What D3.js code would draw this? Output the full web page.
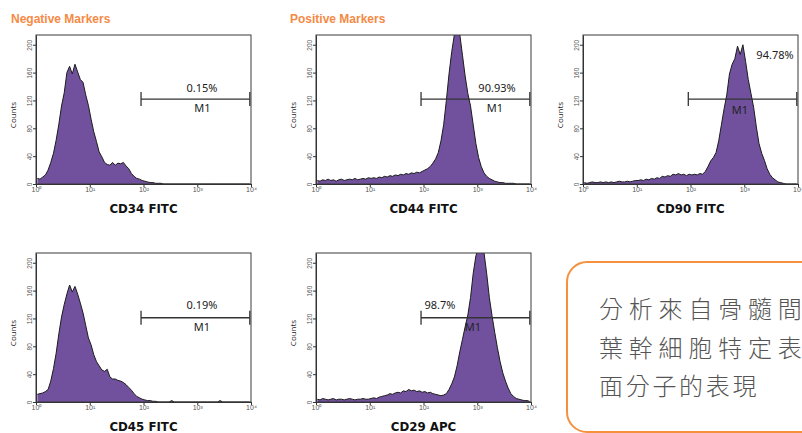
<!DOCTYPE html>
<html>
<head>
<meta charset="utf-8">
<script src="https://cdn.jsdelivr.net/npm/d3@7"></script>
<style>
body { margin: 0; background: #fff; }
svg { display: block; }
</style>
</head>
<body>
<svg id="chart" width="802" height="433"></svg>
<script>
// histogram channels: 80 bins, 20 per decade, from 10^0 to 10^4
var binCount = 80
var binCenters = d3.range(binCount).map(function(i) { return Math.pow(10, 0.025 + i * 0.05) })

var panelLabels = ["CD34 FITC", "CD44 FITC", "CD90 FITC", "CD45 FITC", "CD29 APC"]
var headerLabels = ["Negative Markers", "Positive Markers"]

var cd34Counts = [8, 7, 10, 13, 20, 31, 44, 63, 86, 112, 131, 160, 169, 158, 172, 161, 150, 146, 128, 113,
    93, 75, 61, 46, 39, 31, 28, 27, 31, 27, 30, 29, 31, 26, 22, 15, 11, 8, 7, 5,
    4, 3, 2, 2, 1, 1, 1, 0, 0, 0, 0, 0, 0, 0, 0, 0, 0, 0, 0, 0,
    0, 0, 0, 0, 0, 0, 0, 0, 0, 0, 0, 0, 0, 0, 0, 0, 0, 0, 0, 0]
var cd44Counts = [5, 4, 6, 5, 7, 5, 6, 4, 6, 7, 5, 6, 7, 6, 8, 6, 7, 8, 7, 9,
    8, 9, 8, 10, 9, 11, 10, 12, 11, 13, 12, 14, 13, 15, 14, 16, 15, 17, 16, 18,
    20, 22, 25, 30, 36, 45, 62, 85, 120, 158, 190, 215, 232, 215, 185, 155, 130, 112, 85, 58,
    38, 25, 16, 11, 8, 6, 4, 3, 2, 2, 1, 1, 1, 1, 0, 0, 0, 0, 0, 0]
var cd90Counts = [2, 1, 2, 3, 2, 2, 3, 2, 3, 2, 3, 2, 3, 4, 3, 3, 4, 3, 4, 5,
    5, 6, 5, 7, 6, 8, 7, 9, 8, 11, 10, 12, 11, 14, 13, 15, 13, 14, 12, 14,
    13, 14, 13, 15, 14, 18, 25, 33, 38, 45, 62, 85, 108, 128, 158, 172, 180, 198, 186, 200,
    176, 150, 130, 110, 82, 58, 44, 34, 22, 14, 9, 6, 3, 2, 1, 0, 0, 0, 0, 0]
var cd45Counts = [11, 12, 13, 15, 18, 30, 48, 70, 98, 122, 140, 155, 168, 158, 166, 155, 142, 128, 110, 92,
    82, 68, 58, 52, 46, 44, 47, 36, 33, 33, 31, 30, 28, 25, 21, 17, 12, 8, 6, 4,
    3, 2, 2, 1, 1, 0, 0, 0, 0, 0, 2, 0, 0, 0, 0, 0, 0, 0, 0, 0,
    0, 0, 0, 0, 0, 0, 0, 0, 2, 0, 0, 0, 0, 0, 0, 0, 0, 0, 0, 0]
var cd29Counts = [4, 3, 5, 4, 3, 4, 5, 3, 4, 4, 3, 4, 5, 4, 3, 4, 4, 5, 4, 4,
    5, 6, 5, 7, 8, 9, 10, 12, 11, 13, 14, 13, 16, 15, 18, 16, 17, 15, 16, 14,
    15, 13, 14, 12, 11, 10, 9, 10, 12, 18, 26, 36, 52, 72, 90, 108, 125, 150, 185, 210,
    222, 225, 215, 185, 150, 124, 100, 78, 58, 42, 30, 20, 12, 8, 5, 4, 3, 2, 2, 1]
var seriesCounts = [cd34Counts, cd44Counts, cd90Counts, cd45Counts, cd29Counts]

// M1 gate
var markerLow = [90, 90, 91, 90, 90]
var markerHigh = [9500, 9500, 9500, 9500, 9500]
var markerLevel = [122, 122, 122, 121, 121]
var markerPercent = ["0.15%", "90.93%", "94.78%", "0.19%", "98.7%"]

var yTicks = [0, 40, 80, 120, 160, 200]
var xTicks = [1, 10, 100, 1000, 10000]
var xTickLabels = ["10\u2070", "10\u00B9", "10\u00B2", "10\u00B3", "10\u2074"]

var calloutLines = ["分析來自骨髓間", "葉幹細胞特定表", "面分子的表現"]

// layout
var frames = [[36, 35], [316, 35], [583, 35], [36, 253], [316, 253]]
var frameW = 215, frameH = 149
var pctPos = [[202, 91.5], [497, 91.5], [775, 58.5], [202, 308.5], [440, 308.5]]
var m1Pos = [[202.5, 112], [495, 112], [740, 113.5], [202, 330.5], [473, 330.5]]

var purple = "#71519e"
var orange = "#f58a45"

var svg = d3.select("#chart")

//headers
svg.selectAll(".header")
    .data(headerLabels)
    .enter().append("text")
    .attr("class", "header")
    .attr("x", function(d, i) { return i == 0 ? 11 : 290 })
    .attr("y", 22.5)
    .style("font-family", "'Liberation Sans', Arial, sans-serif")
    .style("font-weight", "bold")
    .style("font-size", "12px")
    .style("fill", orange)
    .text(function(d) { return d })

seriesCounts.forEach(function(counts, i) {
    var fx = frames[i][0], fy = frames[i][1]
    var g = svg.append("g").attr("transform", "translate(" + fx + "," + fy + ")")

    var x = d3.scaleLog().domain([1, 10000]).range([0, frameW])
    var y = d3.scaleLinear().domain([0, 214]).range([frameH, 0])

    g.append("clipPath").attr("id", "clip" + i)
        .append("rect").attr("width", frameW).attr("height", frameH)

    var bins = counts.map(function(c, j) { return { v: binCenters[j], c: c } })

    var area = d3.area()
        .x(function(d) { return x(d.v) })
        .y0(y(0))
        .y1(function(d) { return y(d.c) })
    var line = d3.line()
        .x(function(d) { return x(d.v) })
        .y(function(d) { return y(d.c) })

    var hist = g.append("g").attr("clip-path", "url(#clip" + i + ")")
    hist.append("path")
        .datum(bins)
        .attr("d", area)
        .attr("fill", purple)
    hist.append("path")
        .datum(bins)
        .attr("d", line)
        .attr("fill", "none")
        .attr("stroke", "#1c1c1c")
        .attr("stroke-width", 1)
        .attr("stroke-linejoin", "round")

    //frame
    g.append("rect")
        .attr("width", frameW)
        .attr("height", frameH)
        .attr("fill", "none")
        .attr("stroke", "#3a3a3a")
        .attr("stroke-width", 1)

    //y axis
    var yAxis = g.append("g")
        .call(d3.axisLeft(y).tickValues(yTicks).tickSize(3).tickSizeOuter(0))
    yAxis.select(".domain").attr("stroke", "#333")
    yAxis.selectAll("line").attr("stroke", "#333")
    yAxis.selectAll("text")
        .attr("x", 0)
        .attr("dy", 0)
        .attr("text-anchor", "middle")
        .attr("transform", "translate(-4.5,0) rotate(-90)")
        .style("font-family", "'Liberation Sans', Arial, sans-serif")
        .style("font-size", "6.5px")
        .style("fill", "#555")

    //x axis
    var xAxis = g.append("g")
        .attr("transform", "translate(0," + frameH + ")")
        .call(d3.axisBottom(x).tickValues(xTicks).tickSize(3).tickSizeOuter(0)
            .tickFormat(function(d, k) { return xTickLabels[k] }))
    xAxis.select(".domain").attr("stroke", "#333")
    xAxis.selectAll("line").attr("stroke", "#333")
    xAxis.selectAll("text")
        .attr("y", 3)
        .style("font-family", "'Liberation Sans', Arial, sans-serif")
        .style("font-size", "7px")
        .style("fill", "#555")

    //axis titles
    g.append("text")
        .attr("transform", "translate(-20,80) rotate(-90)")
        .attr("text-anchor", "middle")
        .style("font-family", "'Open Sans', sans-serif")
        .style("font-size", "8px")
        .style("fill", "#222")
        .text("Counts")
    g.append("text")
        .attr("x", frameW / 2)
        .attr("y", 178)
        .attr("text-anchor", "middle")
        .style("font-family", "'DejaVu Sans', sans-serif")
        .style("font-weight", "bold")
        .style("font-size", "11.8px")
        .style("fill", "#111")
        .text(panelLabels[i])

    //M1 marker
    var my = y(markerLevel[i])
    var mx0 = x(markerLow[i]), mx1 = x(markerHigh[i])
    var marker = g.append("g").attr("stroke", "#333").attr("stroke-width", 1.3)
    marker.append("line").attr("x1", mx0).attr("x2", mx1).attr("y1", my).attr("y2", my)
    marker.append("line").attr("x1", mx0).attr("x2", mx0).attr("y1", my - 7).attr("y2", my + 7)
    marker.append("line").attr("x1", mx1).attr("x2", mx1).attr("y1", my - 7).attr("y2", my + 7)

    g.append("text")
        .attr("x", pctPos[i][0] - fx)
        .attr("y", pctPos[i][1] - fy)
        .attr("text-anchor", "middle")
        .style("font-family", "'Noto Sans', sans-serif")
        .style("font-size", "11px")
        .style("fill", "#222")
        .text(markerPercent[i])
    g.append("text")
        .attr("x", m1Pos[i][0] - fx)
        .attr("y", m1Pos[i][1] - fy)
        .attr("text-anchor", "middle")
        .style("font-family", "'Noto Sans', sans-serif")
        .style("font-size", "11px")
        .style("fill", "#222")
        .text("M1")
})

//callout box
svg.append("rect")
    .attr("x", 567)
    .attr("y", 262)
    .attr("width", 300)
    .attr("height", 170)
    .attr("rx", 20)
    .attr("fill", "none")
    .attr("stroke", "#f5913e")
    .attr("stroke-width", 2)

svg.selectAll(".callout")
    .data(calloutLines)
    .enter().append("text")
    .attr("class", "callout")
    .attr("x", 599)
    .attr("y", function(d, i) { return [318, 356.5, 395][i] })
    .style("font-family", "'Noto Sans CJK TC', 'Noto Sans CJK SC', sans-serif")
    .style("font-weight", 300)
    .style("font-size", "24px")
    .style("letter-spacing", function(d, i) { return i < 2 ? "5.8px" : "2.7px" })
    .style("fill", "#555")
    .text(function(d) { return d })
</script>
</body>
</html>
